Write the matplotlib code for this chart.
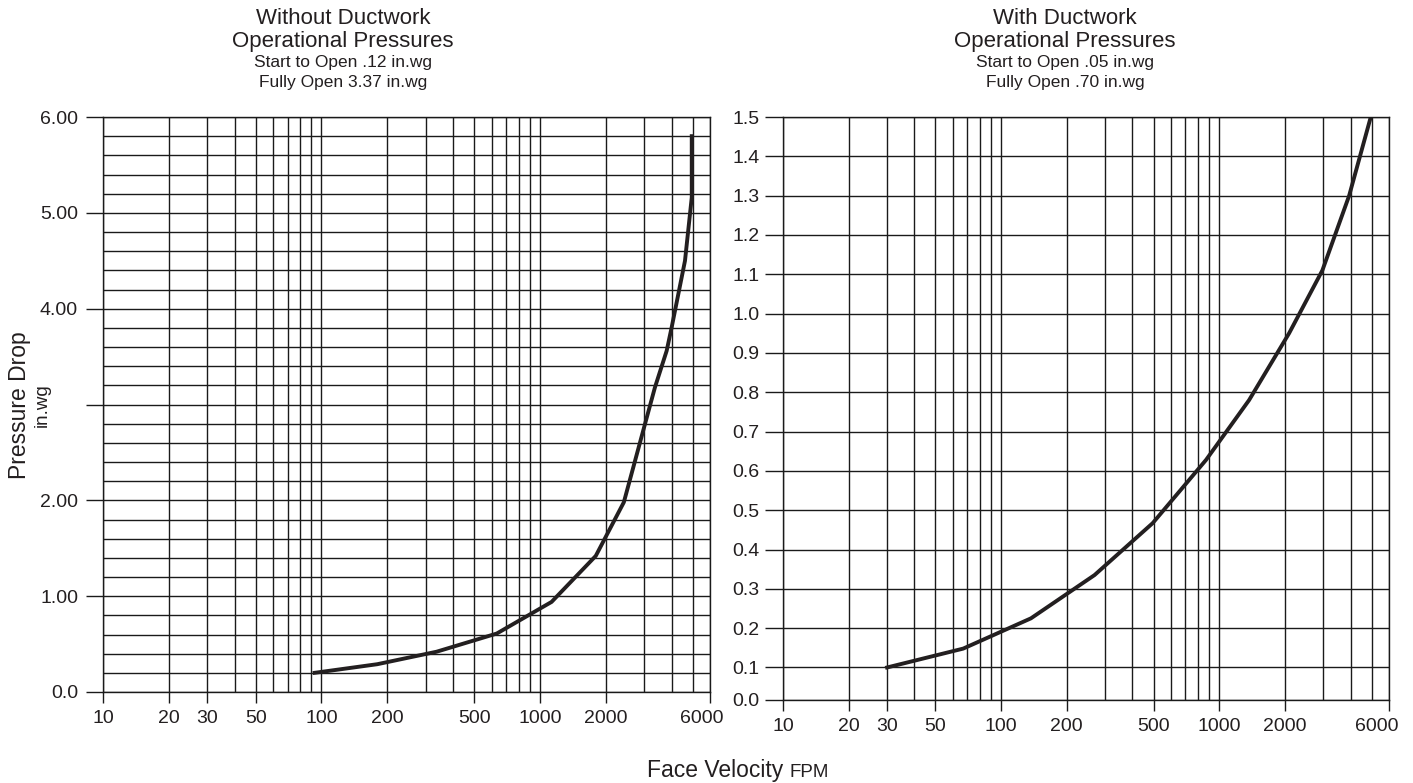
import matplotlib
matplotlib.use("Agg")
import matplotlib.pyplot as plt
import matplotlib.transforms as mtransforms
import numpy as np

plt.rcParams['font.family'] = ['Liberation Sans', 'DejaVu Sans']

# ---------------- data ----------------
left_velocity = [93, 180, 336, 634, 1130, 1800, 2420, 2970, 3360, 3800, 4010, 4610, 4950, 4950]
left_pressure = [0.20, 0.29, 0.42, 0.61, 0.94, 1.42, 1.98, 2.73, 3.18, 3.56, 3.81, 4.50, 5.16, 5.80]

right_velocity = [30, 67, 137, 268, 495, 870, 1370, 2090, 2970, 3940, 4950]
right_pressure = [0.10, 0.148, 0.225, 0.335, 0.467, 0.628, 0.78, 0.95, 1.11, 1.30, 1.50]

x_tick_values = [10, 20, 30, 50, 100, 200, 500, 1000, 2000, 6000]
x_tick_labels = ['10', '20', '30', '50', '100', '200', '500', '1000', '2000', '6000']
x_grid_values = list(range(10, 100, 10)) + list(range(100, 1000, 100)) + list(range(1000, 7000, 1000))

left_y_ticks = [0, 1, 2, 3, 4, 5, 6]
left_y_labels = ['0.0', '1.00', '2.00', '', '4.00', '5.00', '6.00']
left_y_grid = [i * 0.2 for i in range(31)]

right_y_ticks = [i * 0.1 for i in range(16)]
right_y_labels = ['%.1f' % v for v in right_y_ticks]

left_title = ['Without Ductwork', 'Operational Pressures', 'Start to Open .12 in.wg', 'Fully Open 3.37 in.wg']
right_title = ['With Ductwork', 'Operational Pressures', 'Start to Open .05 in.wg', 'Fully Open .70 in.wg']

# ---------------- layout ----------------
W, H = 1413, 783
TXT = '#231f20'
fig = plt.figure(figsize=(W / 100, H / 100), dpi=100)
ax1 = fig.add_axes([103 / W, 1 - 692 / H, (710 - 103) / W, (692 - 117) / H])
ax2 = fig.add_axes([783 / W, 1 - 700 / H, (1389 - 783) / W, (700 - 117) / H])

# right chart: bottom interval (0.0-0.1) is drawn compressed on the original
r = 0.827
def fwd(y):
    y = np.asarray(y, dtype=float)
    return np.where(y >= 0.1, y, 0.1 - (0.1 - y) * r)
def inv(t):
    t = np.asarray(t, dtype=float)
    return np.where(t >= 0.1, t, 0.1 - (0.1 - t) / r)
ax2.set_yscale('function', functions=(fwd, inv))

for ax in (ax1, ax2):
    ax.set_xscale('log')
    ax.set_xlim(10, 6000)
    ax.set_xticks(x_tick_values)
    ax.set_xticklabels(x_tick_labels)
    ax.set_xticks(x_grid_values, minor=True)
    ax.xaxis.set_minor_formatter(matplotlib.ticker.NullFormatter())
    ax.grid(True, which='both', color='#1a1a1a', linewidth=1.0)
    ax.set_axisbelow(True)
    for s in ax.spines.values():
        s.set_color('#1a1a1a')
        s.set_linewidth(1.0)
    ax.tick_params(axis='x', which='major', length=8, width=1.0, color='#1a1a1a',
                   labelsize=14, labelcolor=TXT, pad=5)
    ax.tick_params(which='minor', length=0)

ax1.set_ylim(0, 6)
ax1.set_yticks(left_y_ticks)
ax1.set_yticklabels(left_y_labels)
ax1.set_yticks(left_y_grid, minor=True)
ax1.tick_params(axis='y', which='major', length=12, width=1.0, color='#1a1a1a',
                labelsize=14, labelcolor=TXT, pad=6)

ax2.set_ylim(0, 1.5)
ax2.set_yticks(right_y_ticks)
ax2.set_yticklabels(right_y_labels)
ax2.yaxis.set_minor_locator(matplotlib.ticker.NullLocator())
ax2.tick_params(axis='y', which='major', length=13, width=1.0, color='#1a1a1a',
                labelsize=14, labelcolor=TXT, pad=4)

ax1.plot(left_velocity, left_pressure, color='#231f20', linewidth=2.8, solid_joinstyle='miter')
ax2.plot(right_velocity, right_pressure, color='#231f20', linewidth=2.8, solid_joinstyle='miter')

# shift the last "6000" labels slightly left as on the original
for ax, dx in ((ax1, -8), (ax2, -12)):
    lab = ax.get_xticklabels()[-1]
    lab.set_transform(lab.get_transform() + mtransforms.ScaledTranslation(dx / 100, 0, fig.dpi_scale_trans))

# titles
ys = [19, 42, 62, 82]
sizes = [16, 16, 12.5, 12.5]
for cx, lines in ((343, left_title), (1065, right_title)):
    for y, s, t in zip(ys, sizes, lines):
        fig.text(cx / W, 1 - y / H, t, ha='center', va='center', fontsize=s, color=TXT)

# y label
fig.text(20 / W, 1 - 405 / H, 'Pressure Drop', rotation=90, ha='center', va='center', fontsize=16.5, color=TXT)
fig.text(42 / W, 1 - 405 / H, 'in.wg', rotation=90, ha='center', va='center', fontsize=13.5, color=TXT)

# x label (same baseline for both parts)
t1 = fig.text(647 / W, 1 - 777 / H, 'Face Velocity ', ha='left', va='baseline', fontsize=16.5, color=TXT)
fig.canvas.draw()
bb = t1.get_window_extent(renderer=fig.canvas.get_renderer())
fig.text(bb.x1 / W, 1 - 777 / H, 'FPM', ha='left', va='baseline', fontsize=13.5, color=TXT)

fig.savefig('out.png', dpi=100)
